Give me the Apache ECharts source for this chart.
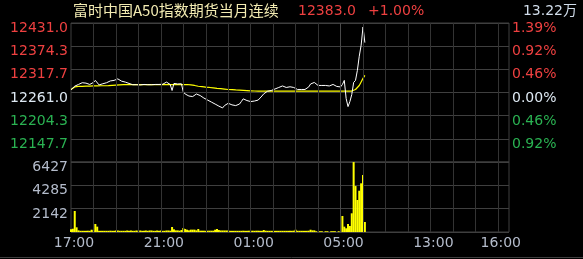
<!DOCTYPE html>
<html>
<head>
<meta charset="utf-8">
<script src="https://cdn.jsdelivr.net/npm/echarts@6/dist/echarts.min.js"></script>
<style>
html,body{margin:0;padding:0;background:#000;}
#chart{width:583px;height:259px;}
</style>
</head>
<body>
<div id="chart"></div>
<script>
// ---- data ----
const titleText = '富时中国A50指数期货当月连续';
const lastPriceText = '12383.0';
const changeText = '+1.00%';
const totalVolumeText = '13.22万';
const prevClose = 12261.0;
const priceTop = 12431.0;
const volumeTop = 6427;
const stepMinutes = 5;          // one sample every 5 minutes from 17:00
const sessionMinutes = 1170;    // width of the time axis in minutes
const gridMinutes = 60;         // guide every hour
const tickMinutes = [0, 240, 480, 720, 960, 1140];
const tickLabels = ['17:00', '21:00', '01:00', '05:00', '13:00', '16:00'];
const sessionBreakMinute = 720;

const prices = [
  12267.7, 12272.1, 12276.5, 12279.5, 12280.7, 12283.9, 12284.9, 12282.4, 12283.9, 12282.4,
  12280.7, 12283.2, 12285.6, 12290.6, 12289.3, 12279.5, 12280.7, 12282.4, 12285.6, 12284.9,
  12286.4, 12289.3, 12290.6, 12290.6, 12292.3, 12294.3, 12292.3, 12288.8, 12290.6, 12286.4,
  12284.4, 12283.2, 12280.7, 12280.0, 12280.7, 12280.0, 12280.7, 12279.5, 12280.0, 12280.7,
  12280.7, 12280.0, 12279.5, 12280.0, 12280.7, 12280.7, 12280.0, 12280.7, 12280.7, 12281.2,
  12284.9, 12286.4, 12284.4, 12280.7, 12265.9, 12283.2, 12280.7, 12281.9, 12280.0, 12282.4,
  12262.2, 12257.3, 12254.8, 12252.4, 12249.9, 12251.1, 12253.6, 12257.3, 12258.5, 12253.6,
  12249.4, 12247.4, 12245.0, 12242.5, 12240.1, 12237.6, 12234.6, 12232.7, 12230.2, 12227.7,
  12225.3, 12223.3, 12229.0, 12231.4, 12234.6, 12232.7, 12230.7, 12230.7, 12229.0, 12230.2,
  12232.7, 12238.8, 12245.5, 12243.8, 12241.3, 12239.6, 12238.8, 12238.8, 12240.1, 12240.1,
  12242.5, 12247.0, 12252.4, 12257.8, 12262.2, 12264.2, 12264.7, 12265.9, 12267.2, 12269.6,
  12271.6, 12273.3, 12274.6, 12277.0, 12274.6, 12273.3, 12274.6, 12275.0, 12274.1, 12273.3,
  12269.6, 12268.4, 12268.4, 12268.4, 12268.4, 12268.4, 12269.6, 12274.6, 12281.9, 12284.4,
  12285.6, 12281.9, 12278.2, 12278.2, 12278.2, 12278.2, 12278.2, 12277.5, 12277.0, 12278.2,
  12280.7, 12278.2, 12275.8, 12274.6, 12274.6, 12280.7, 12290.6, 12246.2, 12226.5, 12238.8,
  12256.1, 12285.6, 12290.6, 12315.2, 12349.7, 12376.8, 12421.2, 12383.0
];

const avgPrices = [
  12268.4, 12272.1, 12274.6, 12275.0, 12275.8, 12275.8, 12276.0, 12276.3, 12276.5, 12276.5,
  12276.8, 12277.0, 12277.0, 12277.0, 12277.0, 12277.2, 12277.5, 12277.5, 12277.5, 12277.7,
  12277.9, 12278.2, 12278.5, 12278.8, 12279.1, 12279.4, 12279.7, 12280.0, 12280.3, 12280.5,
  12280.5, 12280.5, 12280.5, 12280.5, 12280.5, 12280.5, 12280.5, 12280.5, 12280.5, 12280.5,
  12280.5, 12280.5, 12280.5, 12280.5, 12280.5, 12280.5, 12280.5, 12280.5, 12280.5, 12280.5,
  12280.5, 12280.5, 12280.5, 12280.5, 12280.5, 12280.5, 12280.5, 12280.5, 12280.5, 12280.5,
  12280.5, 12280.5, 12280.5, 12280.2, 12279.5, 12278.7, 12278.2, 12277.0, 12276.3, 12275.8,
  12275.3, 12274.6, 12274.1, 12273.6, 12273.3, 12272.8, 12272.3, 12271.8, 12271.3, 12270.9,
  12270.4, 12269.9, 12269.4, 12268.9, 12268.4, 12268.1, 12267.9, 12267.7, 12267.2, 12266.9,
  12266.7, 12266.4, 12266.2, 12265.9, 12265.7, 12265.4, 12265.2, 12264.9, 12264.7, 12264.7,
  12264.5, 12264.5, 12264.5, 12264.5, 12264.5, 12264.5, 12264.5, 12264.5, 12264.5, 12264.5,
  12264.5, 12264.5, 12264.5, 12264.5, 12264.5, 12264.5, 12264.5, 12264.5, 12264.5, 12264.5,
  12264.5, 12264.5, 12264.5, 12264.5, 12264.5, 12264.5, 12264.5, 12264.5, 12264.5, 12264.5,
  12264.5, 12264.5, 12264.5, 12264.5, 12264.5, 12264.5, 12264.5, 12264.5, 12264.5, 12264.5,
  12264.5, 12264.5, 12264.5, 12264.5, 12264.5, 12264.5, 12264.5, 12264.5, 12264.5, 12264.5,
  12264.5, 12265.2, 12268.4, 12272.1, 12278.2, 12286.9, 12295.5, 12302.9
];

const volumes = [
  250, 300, 1930, 430, 150, 110, 110, 110, 110, 120,
  110, 210, 150, 735, 490, 110, 110, 110, 110, 110,
  110, 120, 110, 110, 140, 140, 110, 110, 110, 110,
  140, 110, 140, 110, 110, 140, 110, 140, 110, 110,
  140, 110, 140, 140, 110, 110, 140, 110, 140, 110,
  110, 140, 140, 120, 460, 245, 150, 150, 120, 180,
  370, 275, 210, 150, 215, 215, 215, 150, 275, 120,
  120, 120, 110, 120, 120, 120, 120, 210, 275, 180,
  140, 140, 140, 140, 140, 110, 110, 110, 110, 110,
  110, 110, 120, 110, 110, 120, 110, 120, 110, 120,
  120, 110, 110, 180, 120, 110, 110, 110, 110, 110,
  110, 110, 110, 110, 110, 110, 110, 110, 110, 120,
  210, 110, 110, 110, 110, 110, 110, 120, 210, 150,
  150, 70, 0, 70, 70, 0, 70, 70, 0, 70,
  70, 70, 0, 70, 0, 1470, 490, 340, 735, 550,
  1715, 6420, 4220, 2940, 3790, 4470, 5230, 920
];

// ---- styles ----
const FONT = "'DejaVu Sans', 'Noto Sans CJK SC', sans-serif";
const RED = '#ee4040';
const GREEN = '#2ab252';
const ZERO = '#dde8f2';
const GREY_TEXT = '#b4bccb';
const GRID = '#3f3f3f';

const range = priceTop - prevClose;

const hourMarks = [];
for (let m = gridMinutes; m < sessionMinutes; m += gridMinutes) {
  if (m !== sessionBreakMinute) hourMarks.push(m);
}

function verticalMarks() {
  return {
    silent: true, symbol: 'none', animation: false,
    label: { show: false },
    lineStyle: { type: 'solid', color: '#333333', width: 1 },
    data: hourMarks.map(m => ({ xAxis: m }))
      .concat([{ xAxis: sessionBreakMinute, lineStyle: { type: 'solid', color: '#4a4a4a', width: 1 } }])
  };
}

const chart = echarts.init(document.getElementById('chart'), null, { renderer: 'canvas' });
const option = {
  backgroundColor: '#000',
  animation: false,
  grid: [
    { left: 71, right: 74, top: 23, height: 139, show: true, borderColor: GRID, borderWidth: 1, backgroundColor: 'transparent' },
    { left: 71, right: 74, top: 162, height: 70, show: true, borderColor: GRID, borderWidth: 1, backgroundColor: 'transparent' }
  ],
  xAxis: [
    { type: 'value', gridIndex: 0, min: 0, max: sessionMinutes,
      axisLine: { show: false }, axisTick: { show: false }, axisLabel: { show: false }, splitLine: { show: false } },
    { type: 'value', gridIndex: 1, min: 0, max: sessionMinutes,
      axisLine: { show: false }, axisTick: { show: false }, splitLine: { show: false },
      axisLabel: { customValues: tickMinutes, color: GREY_TEXT, fontSize: 14, fontFamily: FONT, margin: 4,
        padding: [0, 0, 0, 6],
        formatter: v => { const k = tickMinutes.indexOf(v); return k >= 0 ? tickLabels[k] : ''; } } }
  ],
  yAxis: [
    { type: 'value', gridIndex: 0, position: 'left', min: -range, max: range, interval: range / 3,
      axisLine: { show: false }, axisTick: { show: false },
      splitLine: { lineStyle: { color: GRID, width: 1 } },
      axisLabel: { showMinLabel: false, margin: 3, fontSize: 14, fontFamily: FONT, verticalAlign: 'top', lineHeight: 11,
        formatter: v => (prevClose + v).toFixed(1),
        color: v => (Math.abs(v) < 1e-6 ? ZERO : (v > 0 ? RED : GREEN)) } },
    { type: 'value', gridIndex: 0, position: 'right', min: -range, max: range, interval: range / 3,
      axisLine: { show: false }, axisTick: { show: false }, splitLine: { show: false },
      axisLabel: { showMinLabel: false, margin: 3, fontSize: 14, fontFamily: FONT, verticalAlign: 'top', lineHeight: 11,
        formatter: v => (Math.abs(v) / prevClose * 100).toFixed(2) + '%',
        color: v => (Math.abs(v) < 1e-6 ? ZERO : (v > 0 ? RED : GREEN)) } },
    { type: 'value', gridIndex: 1, position: 'left', min: 0, max: volumeTop, interval: volumeTop / 3,
      axisLine: { show: false }, axisTick: { show: false },
      splitLine: { lineStyle: { color: GRID, width: 1 } },
      axisLabel: { showMinLabel: false, margin: 3, fontSize: 14, fontFamily: FONT, color: GREY_TEXT, verticalAlign: 'top', lineHeight: 11,
        formatter: v => String(Math.round(v)) } }
  ],
  series: [
    { type: 'line', name: 'grid-price-lines', xAxisIndex: 0, yAxisIndex: 0, data: [], z: 1, markLine: verticalMarks() },
    { type: 'line', name: 'grid-vol-lines', xAxisIndex: 1, yAxisIndex: 2, data: [], z: 1, markLine: verticalMarks() },
    { type: 'line', name: 'avg', xAxisIndex: 0, yAxisIndex: 0, showSymbol: false, symbol: 'none', z: 3,
      lineStyle: { color: '#ffff00', width: 1.2 },
      data: avgPrices.map((p, i) => [i * stepMinutes, p - prevClose]) },
    { type: 'line', name: 'price', xAxisIndex: 0, yAxisIndex: 0, showSymbol: false, symbol: 'none', z: 4,
      lineStyle: { color: '#ffffff', width: 1 },
      data: prices.map((p, i) => [i * stepMinutes, p - prevClose]) },
    { type: 'bar', name: 'volume', xAxisIndex: 1, yAxisIndex: 2, barWidth: 2, z: 3,
      itemStyle: { color: '#ffff00' },
      data: volumes.map((v, i) => [i * stepMinutes, v]) }
  ],
  graphic: [
    { type: 'text', left: 73, top: 3, style: { text: titleText, fill: '#f3ebb2', font: "15px 'Noto Sans CJK SC', 'DejaVu Sans'" } },
    { type: 'text', left: 298, top: 4, style: { text: lastPriceText, fill: RED, font: "14px 'DejaVu Sans'" } },
    { type: 'text', left: 368, top: 4, style: { text: changeText, fill: RED, font: "14px 'DejaVu Sans'" } },
    { type: 'text', right: 6, top: 4, style: { text: totalVolumeText, fill: '#d0dcea', font: "14px 'DejaVu Sans', 'Noto Sans CJK SC'" } },
    { type: 'line', shape: { x1: 0, y1: 257.5, x2: 583, y2: 257.5 }, style: { stroke: GRID, lineWidth: 1 } }
  ]
};
chart.setOption(option);
</script>
</body>
</html>
